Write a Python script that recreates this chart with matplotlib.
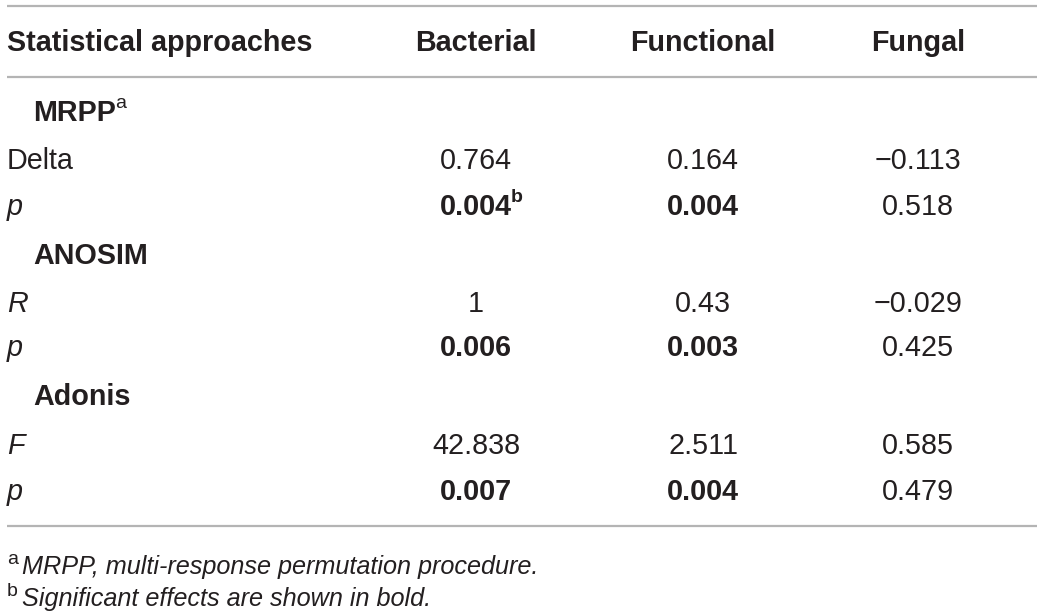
import matplotlib
matplotlib.use("Agg")
import matplotlib.pyplot as plt

# Table content
columns = ["Statistical approaches", "Bacterial", "Functional", "Fungal"]
sections = ["MRPP", "ANOSIM", "Adonis"]
section_notes = ["a", "", ""]
row_labels = [["Delta", "p"], ["R", "p"], ["F", "p"]]
row_italic = [[False, True], [True, True], [True, True]]
bacterial = [["0.764", "0.004"], ["1", "0.006"], ["42.838", "0.007"]]
functional = [["0.164", "0.004"], ["0.43", "0.003"], ["2.511", "0.004"]]
fungal = [["\u22120.113", "0.518"], ["\u22120.029", "0.425"], ["0.585", "0.479"]]
bold_rows = [False, True]          # p rows are significant for bacterial/functional
value_notes = {(0, 1, 0): "b"}     # superscript b on the first bacterial p
footnotes = [("a", "MRPP, multi-response permutation procedure."),
             ("b", "Significant effects are shown in bold.")]

W, H = 1041, 614
fig = plt.figure(figsize=(W / 100, H / 100), dpi=100)
ax = fig.add_axes([0, 0, 1, 1])
ax.set_xlim(0, W)
ax.set_ylim(H, 0)
ax.axis("off")

plt.rcParams["font.family"] = ["Liberation Sans", "DejaVu Sans"]
txt = "#231f20"
line_col = "#b4b4b4"
fs = 20.7
col_x = [7, 476, 703, 918]
renderer = fig.canvas.get_renderer()


def add_sup(t, s, size=14, dy=-9, weight="bold"):
    bb = t.get_window_extent(renderer=renderer)
    ax.text(bb.x1 - 1, t.get_position()[1] + dy, s, fontsize=size, color=txt,
            fontweight=weight, va="center", ha="left")


# rules
for y in [6, 77, 526]:
    ax.plot([7, 1037], [y, y], color=line_col, lw=1.6, solid_capstyle="butt")

# header
y_head = 43
for i, c in enumerate(columns):
    ax.text(col_x[i], y_head, c, fontsize=fs, fontweight="bold", color=txt,
            ha="left" if i == 0 else "center", va="center")

section_y = [113, 256, 397]
row_y = [[161, 207], [304, 348], [446, 492]]
cols_vals = [bacterial, functional, fungal]

for s, name in enumerate(sections):
    t = ax.text(33, section_y[s], name, fontsize=fs, fontweight="bold",
                color=txt, ha="left", va="center")
    if section_notes[s]:
        add_sup(t, section_notes[s], weight="normal")
    for r in range(2):
        y = row_y[s][r]
        ax.text(7, y, row_labels[s][r], fontsize=fs, color=txt, ha="left",
                va="center", style="italic" if row_italic[s][r] else "normal")
        for c in range(3):
            val = cols_vals[c][s][r]
            bold = bold_rows[r] and c < 2
            t = ax.text(col_x[c + 1], y, val, fontsize=fs, color=txt,
                        ha="center", va="center",
                        fontweight="bold" if bold else "normal")
            note = value_notes.get((s, r, c))
            if note:
                add_sup(t, note)

# footnotes
foot_y = [567, 599]
for (mark, text), y in zip(footnotes, foot_y):
    ax.text(7, y - 7, mark, fontsize=14, color=txt, ha="left", va="center")
    ax.text(22, y, text, fontsize=18.2, color=txt, ha="left", va="center",
            style="italic")

fig.savefig("out.png", dpi=100)
